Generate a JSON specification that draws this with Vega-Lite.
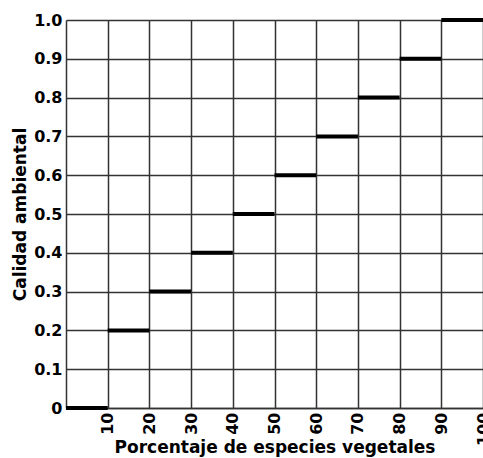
{
  "$schema": "https://vega.github.io/schema/vega-lite/v6.json",
  "width": 417,
  "height": 388,
  "autosize": "none",
  "padding": {"left": 66, "top": 20, "right": 0, "bottom": 50},
  "background": "white",
  "config": {"view": {"stroke": null}},
  "data": {"values": [
    {"x0": 0, "x1": 10, "y": 0},
    {"x0": 10, "x1": 20, "y": 0.2},
    {"x0": 20, "x1": 30, "y": 0.3},
    {"x0": 30, "x1": 40, "y": 0.4},
    {"x0": 40, "x1": 50, "y": 0.5},
    {"x0": 50, "x1": 60, "y": 0.6},
    {"x0": 60, "x1": 70, "y": 0.7},
    {"x0": 70, "x1": 80, "y": 0.8},
    {"x0": 80, "x1": 90, "y": 0.9},
    {"x0": 90, "x1": 100, "y": 1.0}
  ]},
  "mark": {"type": "rule", "color": "black", "strokeWidth": 4},
  "encoding": {
    "x": {
      "field": "x0", "type": "quantitative",
      "scale": {"domain": [0, 100], "nice": false},
      "axis": {
        "values": [10, 20, 30, 40, 50, 60, 70, 80, 90, 100],
        "title": "Porcentaje de especies vegetales",
        "titleFont": "DejaVu Sans", "titleFontSize": 17, "titleFontWeight": "bold", "titleColor": "black",
        "titleY": 44, "titleBaseline": "alphabetic",
        "labelAngle": -90, "labelFont": "DejaVu Sans", "labelFontSize": 16, "labelFontWeight": "bold", "labelColor": "black",
        "labelPadding": 4,
        "ticks": false,
        "grid": true, "gridColor": "#333333", "gridWidth": 1.5, "gridOpacity": 1,
        "domain": true, "domainColor": "#333333", "domainWidth": 1.5
      }
    },
    "x2": {"field": "x1"},
    "y": {
      "field": "y", "type": "quantitative",
      "scale": {"domain": [0, 1], "nice": false},
      "axis": {
        "values": [0, 0.1, 0.2, 0.3, 0.4, 0.5, 0.6, 0.7, 0.8, 0.9, 1.0],
        "labelExpr": "datum.value == 0 ? '0' : format(datum.value, '.1f')",
        "title": "Calidad ambiental",
        "titleFont": "DejaVu Sans", "titleFontSize": 17, "titleFontWeight": "bold", "titleColor": "black",
        "titleX": -37, "titleAnchor": "middle",
        "labelFont": "DejaVu Sans", "labelFontSize": 16, "labelFontWeight": "bold", "labelColor": "black",
        "labelPadding": 4,
        "ticks": false,
        "grid": true, "gridColor": "#333333", "gridWidth": 1.5, "gridOpacity": 1,
        "domain": true, "domainColor": "#333333", "domainWidth": 1.5
      }
    }
  }
}
